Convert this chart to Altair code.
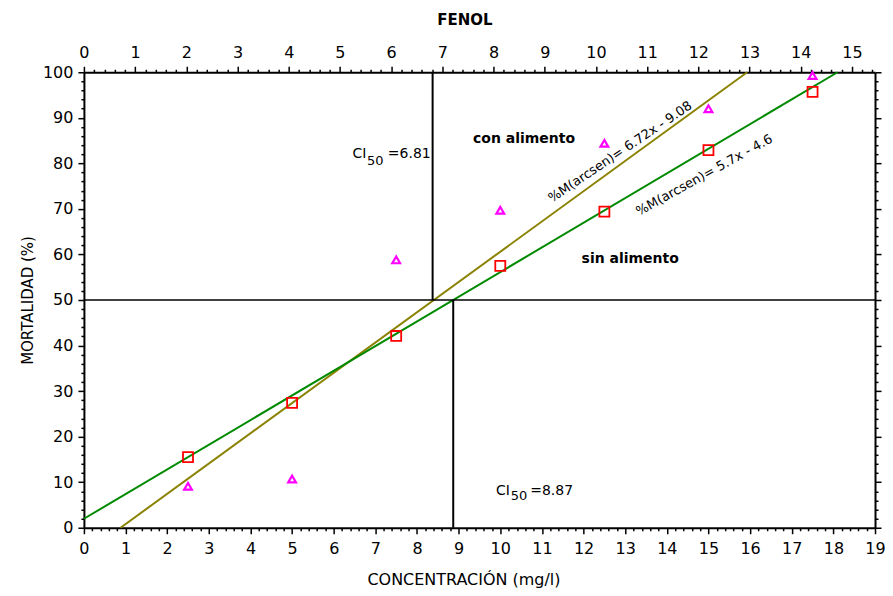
import altair as alt
import pandas as pd

# ---------------- data ----------------
conc = [2.5, 5, 7.5, 10, 12.5, 15, 17.5]                      # CONCENTRACIÓN (mg/l)
mort_con = [9.1, 10.7, 58.8, 69.7, 84.4, 92.0, 99.3]           # con alimento (triangles)
mort_sin = [15.5, 27.4, 42.1, 57.5, 69.4, 82.9, 95.7]          # sin alimento (squares)

fit_con_x = [0.88, 15.93]      # fitted line, con alimento
fit_con_y = [0, 100]
fit_sin_x = [0, 18.1]          # fitted line, sin alimento
fit_sin_y = [1.97, 100]

ci_level = 50
ci50_sin = 8.87                # on bottom axis
ci50_con = 6.81                # on top (FENOL) axis

eq_con = "%M(arcsen)= 6.72x - 9.08"
eq_sin = "%M(arcsen)= 5.7x - 4.6"

x_ticks = [round(i * 0.2, 1) for i in range(0, 96)]     # 0 .. 19
top_ticks = [round(i * 0.2, 1) for i in range(0, 78)]   # 0 .. 15.4
y_ticks = list(range(0, 101, 2))

FONT = "DejaVu Sans"
W, H = 792, 456

x_major = "abs(datum.value - round(datum.value)) < 0.01"
y_major = "datum.value % 10 === 0"


def tsize(test):
    return {"condition": {"test": test, "value": 6}, "value": 3}


common_axis = dict(
    labelFont=FONT, labelFontSize=16, labelColor="black",
    tickColor="black", tickWidth=1.5, domainColor="black", domainWidth=2,
    grid=False, labelOverlap=False, labelFlush=False,
    titleFont=FONT, titleColor="black",
)

x_axis = alt.Axis(
    orient="bottom", values=x_ticks,
    labelExpr=f"{x_major} ? '' + round(datum.value) : ''",
    tickSize=tsize(x_major), labelPadding=7,
    title="CONCENTRACIÓN (mg/l)", titleFontSize=16, titleFontWeight="normal",
    titleX=380, titleY=57, titleAlign="center", titleBaseline="alphabetic",
    **common_axis,
)
top_axis = alt.Axis(
    orient="top", values=top_ticks,
    labelExpr=f"{x_major} ? '' + round(datum.value) : ''",
    tickSize=tsize(x_major), labelPadding=6,
    title="FENOL", titleFontSize=15, titleFontWeight="bold",
    titleX=381, titleY=-48, titleAlign="center", titleBaseline="alphabetic",
    **common_axis,
)
y_axis = alt.Axis(
    orient="left", values=y_ticks,
    labelExpr=f"{y_major} ? datum.label : ''",
    tickSize=tsize(y_major), labelPadding=5,
    title="MORTALIDAD (%)", titleFontSize=15, titleFontWeight="normal",
    titleX=-56, titleY=H / 2, titleAngle=270, titleAlign="center", titleBaseline="middle",
    **common_axis,
)
right_axis = alt.Axis(
    orient="right", values=y_ticks, labels=False,
    tickSize=tsize(y_major), title="",
    **common_axis,
)

xs = alt.Scale(domain=[0, 19], nice=False, zero=False)
ys = alt.Scale(domain=[0, 100], nice=False, zero=False)
X = alt.X("x:Q", scale=xs, axis=x_axis)
Y = alt.Y("y:Q", scale=ys, axis=y_axis)

# fitted lines
lines_df = pd.DataFrame({
    "x": [fit_con_x[0], fit_sin_x[0]], "x2": [fit_con_x[1], fit_sin_x[1]],
    "y": [fit_con_y[0], fit_sin_y[0]], "y2": [fit_con_y[1], fit_sin_y[1]],
    "s": ["con", "sin"],
})
lines = alt.Chart(lines_df).mark_rule(strokeWidth=2).encode(
    x=X, x2="x2:Q", y=Y, y2="y2:Q",
    color=alt.Color("s:N", scale=alt.Scale(domain=["con", "sin"], range=["#8a8200", "#008a00"]), legend=None),
)

# reference rules at 50 %
h_df = pd.DataFrame({"x": [0], "x2": [19], "y": [ci_level]})
hrule = alt.Chart(h_df).mark_rule(color="black", strokeWidth=1.5).encode(x=X, x2="x2:Q", y=Y)
v_df = pd.DataFrame({"x": [ci50_sin], "y": [0], "y2": [ci_level]})
vrule = alt.Chart(v_df).mark_rule(color="black", strokeWidth=2).encode(x=X, y=Y, y2="y2:Q")

tri_df = pd.DataFrame({"x": conc, "y": mort_con})
tri = alt.Chart(tri_df).mark_point(shape="triangle-up", size=60, filled=False,
                                   color="#ff00ff", strokeWidth=2.2, opacity=1).encode(x=X, y=Y)
sq_df = pd.DataFrame({"x": conc, "y": mort_sin})
sq = alt.Chart(sq_df).mark_point(shape="square", size=100, filled=False,
                                 color="#ff0000", strokeWidth=1.8, opacity=1).encode(x=X, y=Y)

# text annotations (data coordinates)
bold_df = pd.DataFrame({"x": [10.57, 13.12], "y": [84.5, 58.1], "t": ["con alimento", "sin alimento"]})
bold_txt = alt.Chart(bold_df).mark_text(font=FONT, fontSize=14, fontWeight="bold", color="black",
                                        align="center", baseline="alphabetic").encode(x=X, y=Y, text="t:N")
ci_df = pd.DataFrame({"x": [6.45, 7.30, 9.90, 10.72], "y": [81.1, 81.1, 7.2, 7.2],
                      "t": ["CI", f"={ci50_con}", "CI", f"={ci50_sin}"]})
ci_txt = alt.Chart(ci_df).mark_text(font=FONT, fontSize=14, color="black",
                                    align="left", baseline="alphabetic").encode(x=X, y=Y, text="t:N")
sub_df = pd.DataFrame({"x": [6.80, 10.25], "y": [79.6, 6.1], "t": ["50", "50"]})
sub_txt = alt.Chart(sub_df).mark_text(font=FONT, fontSize=13, color="black",
                                      align="left", baseline="alphabetic").encode(x=X, y=Y, text="t:N")
eq1 = alt.Chart(pd.DataFrame({"x": [12.88], "y": [82.5], "t": [eq_con]})).mark_text(
    font=FONT, fontSize=13, color="black", angle=326, align="center", baseline="middle"
).encode(x=X, y=Y, text="t:N")
eq2 = alt.Chart(pd.DataFrame({"x": [14.90], "y": [77.4], "t": [eq_sin]})).mark_text(
    font=FONT, fontSize=13, color="black", angle=331, align="center", baseline="middle"
).encode(x=X, y=Y, text="t:N")

bottom = alt.layer(lines, hrule, vrule, tri, sq, bold_txt, ci_txt, sub_txt, eq1, eq2)

# top (FENOL) scale layer with CI50 line
top_df = pd.DataFrame({"x": [ci50_con], "y": [ci_level], "y2": [100]})
top = alt.Chart(top_df).mark_rule(color="black", strokeWidth=2).encode(
    x=alt.X("x:Q", scale=alt.Scale(domain=[0, 15.45], nice=False, zero=False), axis=top_axis),
    y=alt.Y("y:Q", scale=ys, axis=right_axis),
    y2="y2:Q",
)

chart = (
    alt.layer(bottom, top)
    .resolve_scale(x="independent")
    .resolve_axis(x="independent", y="independent")
    .properties(
        width=W, height=H,
        autosize=alt.AutoSizeParams(type="none"),
        padding={"left": 76, "top": 64, "right": 10, "bottom": 60},
        background="white",
    )
    .configure_view(strokeWidth=0)
)

chart.save("out.html", embed_options={"renderer": "svg", "actions": False})
